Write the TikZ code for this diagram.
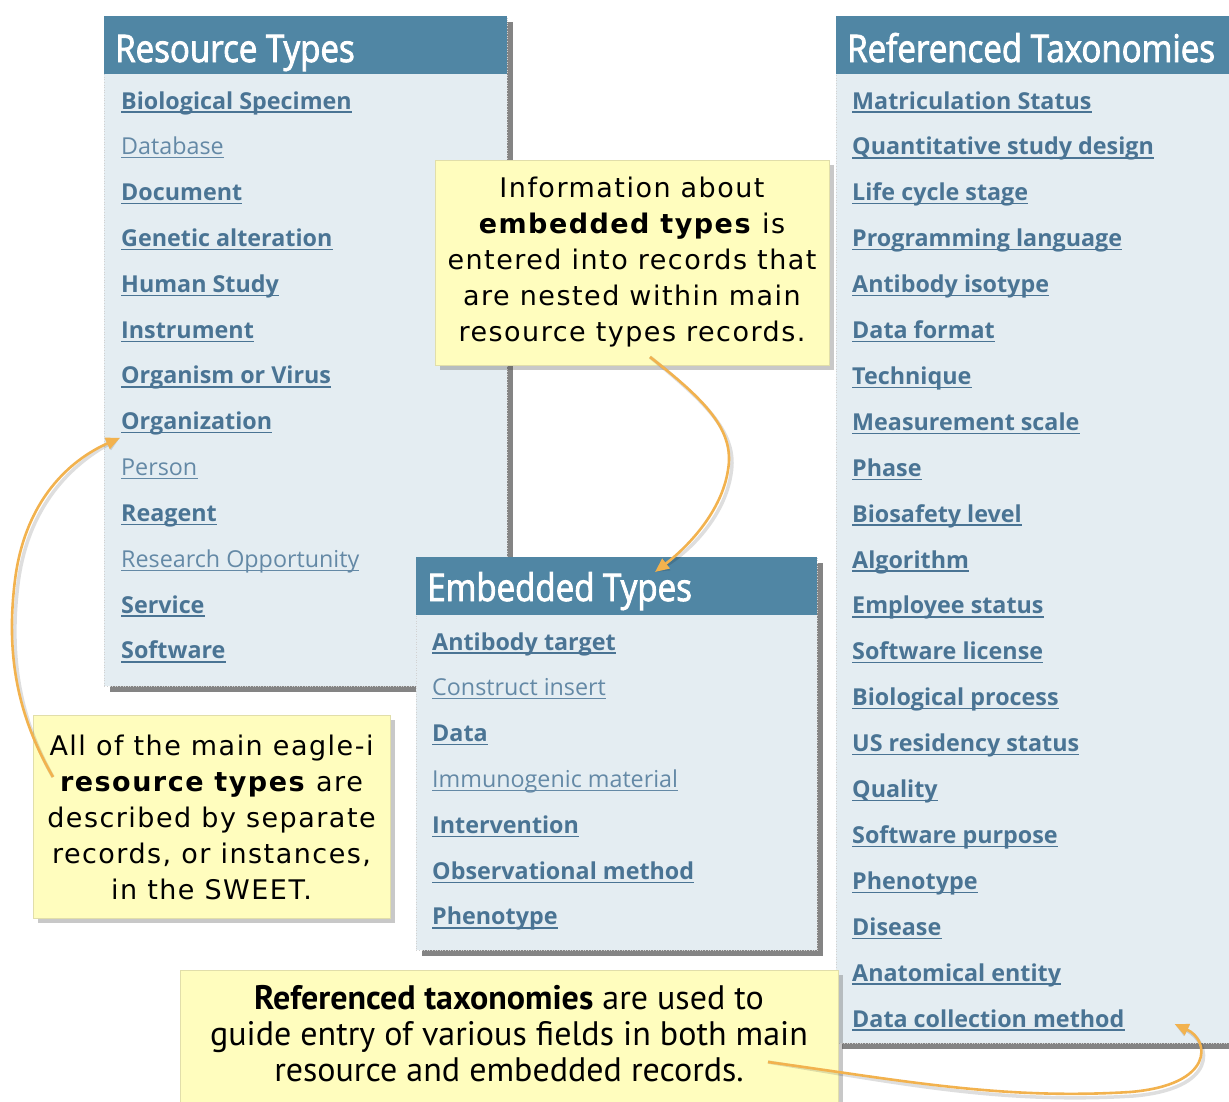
\documentclass[tikz,border=0pt]{standalone}
\usepackage{fontspec}
\setmainfont{Open Sans}
\newfontfamily\itemfont{Open Sans}
\newfontfamily\headfont[FakeStretch=0.87,FakeBold=2.2]{Open Sans}
\newfontfamily\calfont[LetterSpace=5.5]{DejaVu Sans}
\newfontfamily\condfont{PT Sans}
\usetikzlibrary{shadows,arrows.meta,calc}
\definecolor{panelbg}{RGB}{228,237,242}
\definecolor{headbg}{RGB}{80,134,164}
\definecolor{linkb}{RGB}{74,116,148}
\definecolor{linkn}{RGB}{100,137,166}
\definecolor{calbg}{RGB}{255,253,190}
\definecolor{calborder}{RGB}{225,222,170}
\definecolor{arrowc}{RGB}{242,178,78}
\tikzset{
  panel/.style={fill=panelbg, draw=gray!35, dotted, line width=0.6pt, anchor=north west, inner sep=0pt,
    drop shadow={shadow xshift=6pt, shadow yshift=-6pt, opacity=0.6, fill=black!80}},
  headband/.style={fill=headbg, anchor=north west, inner sep=0pt, minimum height=58pt},
  headtext/.style={anchor=base west, inner sep=0pt, text=white, font=\fontsize{38}{40}\selectfont\headfont},
  itemb/.style={anchor=base west, inner sep=0pt, text=linkb, font=\fontsize{23.3}{27}\selectfont\itemfont\bfseries},
  itemn/.style={anchor=base west, inner sep=0pt, text=linkn, font=\fontsize{23.3}{27}\selectfont\itemfont},
  callout/.style={fill=calbg, draw=calborder, line width=0.6pt, inner sep=0pt,
    drop shadow={shadow xshift=5pt, shadow yshift=-5pt, opacity=0.3, fill=black!70}},
  caltext/.style={align=center, inner sep=0pt, font=\fontsize{27}{36}\selectfont\calfont},
  condtext/.style={align=center, inner sep=0pt, font=\fontsize{34}{36}\selectfont\condfont},
  guide/.style={draw=arrowc, line width=2.6pt, -{Triangle[length=14pt,width=12pt]}},
  guideshadow/.style={draw=black, opacity=0.13, line width=3.5pt, -{Triangle[length=14pt,width=12pt]}}
}
\begin{document}
\begin{tikzpicture}[x=1pt,y=-1pt]
\clip (0,0) rectangle (1229,1101);
\fill[white] (0,0) rectangle (1229,1101);

% ---------- Resource Types ----------
\node[panel, minimum width=403pt, minimum height=670pt] (rt) at (104,16) {};
\node[headband, minimum width=403pt] (rth) at (104,16) {};
\node[headtext] (rtt) at (115,62) {Resource Types};
\foreach \s/\t [count=\i] in {b/Biological Specimen, n/Database, b/Document, b/Genetic alteration,
  b/Human Study, b/Instrument, b/Organism or Virus, b/Organization, n/Person, b/Reagent,
  n/Research Opportunity, b/Service, b/Software}{
  \node[item\s] (r\i) at (121,{109+(\i-1)*45.83}) {\t};
  \draw[link\s, line width=1.3pt] ($(r\i.base west)+(0,3)$) -- ($(r\i.base east)+(0,3)$);
}

% ---------- Embedded Types ----------
\node[panel, minimum width=401pt, minimum height=393pt] (et) at (416,557) {};
\node[headband, minimum width=401pt] (eth) at (416,557) {};
\node[headtext] (ett) at (427,601) {Embedded Types};
\foreach \s/\t [count=\i] in {b/Antibody target, n/Construct insert, b/Data, n/Immunogenic material,
  b/Intervention, b/Observational method, b/Phenotype}{
  \node[item\s] (e\i) at (432,{650+(\i-1)*45.83}) {\t};
  \draw[link\s, line width=1.3pt] ($(e\i.base west)+(0,3)$) -- ($(e\i.base east)+(0,3)$);
}

% ---------- Referenced Taxonomies ----------
\node[panel, minimum width=410pt, minimum height=1027pt] (tx) at (836,16) {};
\node[headband, minimum width=410pt] (txh) at (836,16) {};
\node[headtext] (txt) at (847,62) {Referenced Taxonomies};
\foreach \t [count=\i] in {Matriculation Status, Quantitative study design, Life cycle stage,
  Programming language, Antibody isotype, Data format, Technique, Measurement scale, Phase,
  Biosafety level, Algorithm, Employee status, Software license, Biological process,
  US residency status, Quality, Software purpose, Phenotype, Disease, Anatomical entity,
  Data collection method}{
  \node[itemb] (t\i) at (852,{109+(\i-1)*45.9}) {\t};
  \draw[linkb, line width=1.3pt] ($(t\i.base west)+(0,3)$) -- ($(t\i.base east)+(0,3)$);
}

% ---------- Callouts ----------
\node[callout, minimum width=394pt, minimum height=205pt] (c1) at (632,262.5) {};
\node[caltext] (c1t) at (632,262) {Information about\\ \textbf{embedded types} is\\ entered into records that\\ are nested within main\\ resource types records.};

\node[callout, minimum width=357pt, minimum height=203pt] (c2) at (211.5,816.5) {};
\node[caltext] (c2t) at (211.5,817) {All of the main eagle-i\\ \textbf{resource types} are\\ described by separate\\ records, or instances,\\ in the SWEET.};

\node[callout, minimum width=658pt, minimum height=140pt] (c3) at (509,1040) {};
\node[condtext] (c3t) at (509,1034) {\textbf{Referenced taxonomies} are used to\\ guide entry of various fields in both main\\ resource and embedded records.};

% ---------- Connectors ----------
\coordinate (a1s) at (650,357);
\coordinate (a1e) at ($(eth.north west)+(239,15)$);
\coordinate (a2s) at (53,777);
\coordinate (a2e) at ($(r8.base west)+(-1,8)$);
\coordinate (a3s) at (768,1062);
\coordinate (a3e) at ($(t21.base east)+(50,-3)$);

\begin{scope}[shift={(3,4)}]
\draw[guideshadow] (a1s) .. controls (705,400) and (735,430) .. (728,470) .. controls (722,510) and (690,545) .. (a1e);
\draw[guideshadow] (a2s) .. controls (20,720) and (5,660) .. (15,580) .. controls (25,500) and (70,460) .. (a2e);
\draw[guideshadow] (a3s) .. controls (900,1080) and (1000,1100) .. (1130,1092) .. controls (1215,1085) and (1210,1040) .. (a3e);
\end{scope}
\draw[guide] (a1s) .. controls (705,400) and (735,430) .. (728,470) .. controls (722,510) and (690,545) .. (a1e);
\draw[guide] (a2s) .. controls (20,720) and (5,660) .. (15,580) .. controls (25,500) and (70,460) .. (a2e);
\draw[guide] (a3s) .. controls (900,1080) and (1000,1100) .. (1130,1092) .. controls (1215,1085) and (1210,1040) .. (a3e);
\end{tikzpicture}
\end{document}
